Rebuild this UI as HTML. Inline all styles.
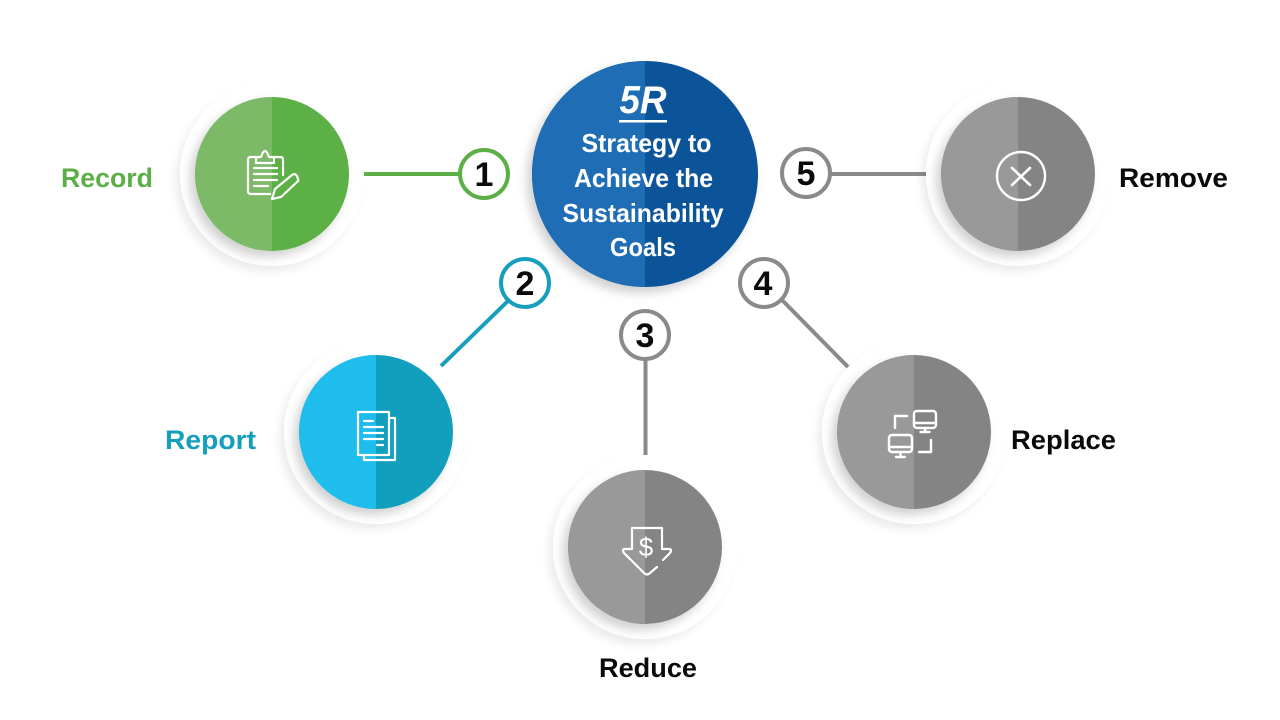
<!DOCTYPE html>
<html><head><meta charset="utf-8"><style>
html,body{margin:0;padding:0;background:#fff}
svg{display:block}
text{font-family:"Liberation Sans",sans-serif;font-weight:bold}
.l{font-size:27px}
.c{font-size:26px;fill:#fff;text-anchor:middle}
.n{font-size:34px;fill:#0a0a0a;text-anchor:middle}
.i{fill:none;stroke:#fff;stroke-width:2.200;stroke-linecap:round;stroke-linejoin:round}
</style></head><body>
<svg width="1280" height="720" viewBox="0 0 1280 720" xmlns="http://www.w3.org/2000/svg">
<defs>
<filter id="halo" x="-30%" y="-30%" width="160%" height="160%"><feDropShadow dx="-5" dy="6" stdDeviation="4" flood-color="#000" flood-opacity=".07"/></filter>
<filter id="inner" x="-30%" y="-30%" width="160%" height="160%"><feDropShadow dx="-5" dy="6" stdDeviation="5" flood-color="#000" flood-opacity=".18"/></filter>
<clipPath id="lh"><rect x="-120" y="-120" width="120" height="240"/></clipPath>
<g id="disc"><circle r="92" fill="#fff" filter="url(#halo)"/><circle r="77" fill="#fff" filter="url(#inner)"/></g>
</defs>
<rect width="1280" height="720" fill="#fff"/>

<!-- connectors -->
<g stroke-width="4" fill="none">
<line x1="364" y1="174" x2="462" y2="174" stroke="#5cae46"/>
<line x1="441" y1="366" x2="509" y2="300" stroke="#159fbd"/>
<line x1="645.500" y1="358" x2="645.500" y2="455" stroke="#8a8a8a"/>
<line x1="782" y1="300" x2="848" y2="367" stroke="#8a8a8a"/>
<line x1="829" y1="174" x2="926" y2="174" stroke="#8a8a8a"/>
</g>

<!-- Record -->
<g transform="translate(272,174)">
<use href="#disc"/>
<circle r="77" fill="#5cb046"/><circle r="77" fill="#7cba68" clip-path="url(#lh)"/>
<g class="i">
<path d="M-2 20H-21Q-24 20 -24 17V-14Q-24 -17 -21 -17H-16M2 -17H8Q11 -17 11 -14V1"/>
<path d="M-16 -11V-15Q-16 -17 -13 -17H-11Q-9 -23 -7 -23Q-5 -23 -3 -17H-1Q2 -17 2 -15V-11Z"/>
<path d="M-18 -6H5M-18 0H5M-18 6H5M-18 12H-4"/>
<path d="M0 25L3 15L20 1Q23 -1 25 2L26 5Q27 7 25 8L9 23Z"/>
</g>
</g>

<!-- Report -->
<g transform="translate(376,432)">
<use href="#disc"/>
<circle r="77" fill="#129fbd"/><circle r="77" fill="#1fbdec" clip-path="url(#lh)"/>
<g class="i">
<path d="M-18 -20H13V23H-18Z"/>
<path d="M13 -14H19V28H-12V23"/>
<path d="M-12 -11H-3M-12 -5H7M-12 1H7M-12 7H7M1 13H7"/>
</g>
</g>

<!-- Reduce -->
<g transform="translate(645,547)">
<use href="#disc"/>
<circle r="77" fill="#838483"/><circle r="77" fill="#999999" clip-path="url(#lh)"/>
<g class="i">
<path d="M17 2V-19H-13V2H-21Q-23 3 -21 6L-1 26Q2 29 5 26L12 20"/>
<path d="M17 2H25Q27 3 25 6L18 13"/>
</g>
<text x="1" y="9" fill="#fff" font-size="26" text-anchor="middle" style="font-weight:normal">$</text>
</g>

<!-- Replace -->
<g transform="translate(914,432)">
<use href="#disc"/>
<circle r="77" fill="#838483"/><circle r="77" fill="#999999" clip-path="url(#lh)"/>
<g class="i" style="stroke-width:2.400">
<rect x="0" y="-21" width="22" height="17" rx="3"/>
<path d="M0 -9H22M11 -4V0M6.500 0H15.500"/>
<rect x="-25" y="3" width="23" height="17" rx="3"/>
<path d="M-25 15H-2M-13.500 20V25M-18 25H-9"/>
<path d="M-19 -4V-16H-7"/>
<path d="M5 20H17V8"/>
</g>
</g>

<!-- Remove -->
<g transform="translate(1018,174)">
<use href="#disc"/>
<circle r="77" fill="#838483"/><circle r="77" fill="#999999" clip-path="url(#lh)"/>
<circle cx="3" cy="2" r="24" fill="none" stroke="#fff" stroke-width="2.400"/>
<path d="M-6 -6L12 11M12 -6L-6 11" class="i" style="stroke-width:2.600"/>
</g>

<!-- Centre -->
<circle cx="645" cy="174" r="113" fill="#fff" filter="url(#inner)"/>
<circle cx="645" cy="174" r="113" fill="#0b5499"/>
<g transform="translate(645,174)"><circle r="113" fill="#1f6db5" clip-path="url(#lh)"/></g>
<text x="643" y="113" fill="#fff" font-size="39" text-anchor="middle" font-style="italic" textLength="47" lengthAdjust="spacingAndGlyphs">5R</text>
<rect x="619" y="120" width="48" height="2.500" fill="#fff"/>
<text class="c" x="646.500" y="152" textLength="130" lengthAdjust="spacingAndGlyphs">Strategy to</text>
<text class="c" x="643.500" y="187" textLength="139" lengthAdjust="spacingAndGlyphs">Achieve the</text>
<text class="c" x="643" y="222" textLength="161" lengthAdjust="spacingAndGlyphs">Sustainability</text>
<text class="c" x="643" y="256" textLength="66" lengthAdjust="spacingAndGlyphs">Goals</text>

<!-- Number badges -->
<g fill="#fff" stroke-width="4">
<circle cx="484" cy="174" r="24" stroke="#5cae46"/>
<circle cx="525" cy="283" r="24" stroke="#159fbd"/>
<circle cx="645" cy="335" r="24" stroke="#8a8a8a"/>
<circle cx="764" cy="283" r="24" stroke="#8a8a8a"/>
<circle cx="806" cy="173" r="24" stroke="#8a8a8a"/>
</g>
<text class="n" x="484" y="186">1</text>
<text class="n" x="525" y="295">2</text>
<text class="n" x="645" y="347">3</text>
<text class="n" x="763" y="295">4</text>
<text class="n" x="806" y="185">5</text>

<!-- Labels -->
<text class="l" x="61" y="187" fill="#5cae46" textLength="92" lengthAdjust="spacingAndGlyphs">Record</text>
<text class="l" x="165" y="449" fill="#159fbd" textLength="91" lengthAdjust="spacingAndGlyphs">Report</text>
<text class="l" x="599" y="677" fill="#0a0a0a" textLength="98" lengthAdjust="spacingAndGlyphs">Reduce</text>
<text class="l" x="1011" y="449" fill="#0a0a0a" textLength="105" lengthAdjust="spacingAndGlyphs">Replace</text>
<text class="l" x="1119" y="187" fill="#0a0a0a" textLength="109" lengthAdjust="spacingAndGlyphs">Remove</text>
</svg>
</body></html>
